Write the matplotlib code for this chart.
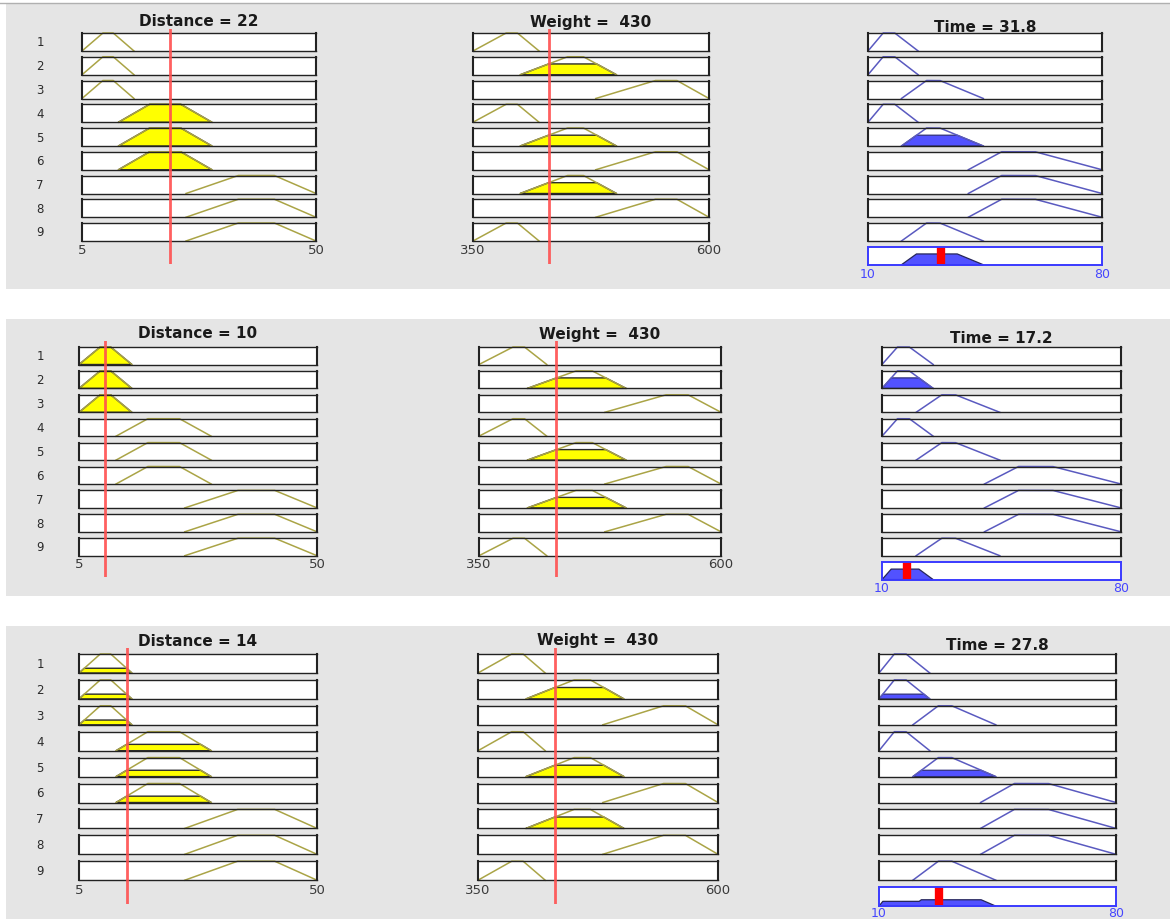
import numpy as np
import matplotlib
matplotlib.use("Agg")
import matplotlib.pyplot as plt
from matplotlib.patches import Rectangle
from matplotlib.lines import Line2D

W, H = 1170, 920

# Trapezoidal membership functions [a, b, c, d]
distance_range = [5, 50]
distance_small = [5, 9, 11, 15]
distance_medium = [12, 18, 24, 30]
distance_large = [25, 35, 42, 50]

weight_range = [350, 600]
weight_light = [350, 385, 397, 420]
weight_medium = [400, 450, 467, 502]
weight_heavy = [480, 543, 566, 600]

time_range = [10, 80]
time_short = [10, 14.5, 18, 25]
time_medium = [20, 27.5, 31.5, 44.5]
time_long = [40, 50, 60, 80]

# Rule base (one entry per rule row)
rule_distance = ["small", "small", "small", "medium", "medium", "medium", "large", "large", "large"]
rule_weight = ["light", "medium", "heavy", "light", "medium", "heavy", "medium", "heavy", "light"]
rule_time = ["short", "short", "medium", "short", "medium", "long", "long", "long", "medium"]

# Evaluated operating points
distance_inputs = [22, 10, 14]
weight_inputs = [430, 430, 430]
time_outputs = [31.8, 17.2, 27.8]

distance_mfs = {"small": distance_small, "medium": distance_medium, "large": distance_large}
weight_mfs = {"light": weight_light, "medium": weight_medium, "heavy": weight_heavy}
time_mfs = {"short": time_short, "medium": time_medium, "long": time_long}

# Screen geometry of the three rule-viewer panels (pixels)
layouts = [
    dict(bg=(4, 290), top=34, step=23.75, h=18,
         cols=[(82, 316), (473, 709), (868, 1102)],
         title_y=22, ttitle_y=27, tick_y=250, ttick_y=275, line=(30, 265)),
    dict(bg=(320, 597), top=348, step=23.9, h=17.5,
         cols=[(79, 317), (479, 721), (882, 1121)],
         title_y=334, ttitle_y=339, tick_y=565, ttick_y=589, line=(342, 578)),
    dict(bg=(627, 921), top=655, step=25.9, h=19,
         cols=[(79, 317), (478, 718), (879, 1116)],
         title_y=641, ttitle_y=646, tick_y=891, ttick_y=913.5, line=(649, 905)),
]

MF_IN = "#aaa446"
FILL_IN = "#ffff00"
MF_OUT = "#5a5ac0"
FILL_OUT = "#5252ff"
RED_IN = "#ff4f4f"
TEXT = "#2a2a2a"
TICK_OUT = "#4646ff"


def trap(x, p):
    a, b, c, d = p
    return np.interp(x, [a, b, c, d], [0, 1, 1, 0], left=0, right=0)


def add_box(fig, x0, x1, y0, y1, xr, edge="#222222", lw_side=1.5, lw_tb=1.0):
    ax = fig.add_axes([x0 / W, 1 - y1 / H, (x1 - x0) / W, (y1 - y0) / H])
    ax.set_xlim(xr)
    ax.set_ylim(0, 1)
    ax.set_xticks([])
    ax.set_yticks([])
    ax.set_facecolor("white")
    for side, sp in ax.spines.items():
        sp.set_color(edge)
        sp.set_linewidth(lw_side if side in ("left", "right") else lw_tb)
    return ax


def add_overlay(fig, x0, x1, y0, y1, xr):
    ax = fig.add_axes([x0 / W, 1 - y1 / H, (x1 - x0) / W, (y1 - y0) / H])
    ax.set_xlim(xr)
    ax.set_ylim(0, 1)
    ax.axis("off")
    ax.patch.set_alpha(0)
    return ax


fig = plt.figure(figsize=(W / 100, H / 100), dpi=100)
fig.patch.set_facecolor("white")
fig.add_artist(Line2D([0, 1], [1 - 4 / H] * 2, transform=fig.transFigure,
                      color="#b0b0b0", lw=1.0, zorder=-5))

for k, L in enumerate(layouts):
    d_in, w_in, t_out = distance_inputs[k], weight_inputs[k], time_outputs[k]
    b0, b1 = L["bg"]
    fig.add_artist(Rectangle((6 / W, 1 - b1 / H), (W - 6) / W, (b1 - b0) / H,
                             transform=fig.transFigure, facecolor="#e5e5e5",
                             edgecolor="none", zorder=-10))

    (dx0, dx1), (wx0, wx1), (tx0, tx1) = L["cols"]
    aggregate_x = np.linspace(time_range[0], time_range[1], 1401)
    aggregate = np.zeros_like(aggregate_x)

    for r in range(9):
        y0 = L["top"] + r * L["step"]
        y1 = y0 + L["h"]
        fig.text(40 / W, 1 - (y0 + y1) / 2 / H, str(r + 1), ha="center", va="center",
                 fontsize=8.5, color=TEXT)

        mu_d = trap(np.array([d_in]), distance_mfs[rule_distance[r]])[0]
        mu_w = trap(np.array([w_in]), weight_mfs[rule_weight[r]])[0]
        strength = min(mu_d, mu_w)

        for (cx0, cx1), xr, p, mu in (
            ((dx0, dx1), distance_range, distance_mfs[rule_distance[r]], mu_d),
            ((wx0, wx1), weight_range, weight_mfs[rule_weight[r]], mu_w),
        ):
            ax = add_box(fig, cx0, cx1, y0, y1, xr)
            xs = np.linspace(p[0], p[3], 401)
            ax.plot(xs, trap(xs, p), color=MF_IN, lw=1.1, clip_on=False)
            if mu > 0:
                ys = np.minimum(trap(xs, p), mu)
                ax.fill(xs, ys, facecolor=FILL_IN, edgecolor="#2b2b2b", lw=1.0,
                        clip_on=False)

        p = time_mfs[rule_time[r]]
        ax = add_box(fig, tx0, tx1, y0, y1, time_range)
        xs = np.linspace(p[0], p[3], 401)
        ax.plot(xs, trap(xs, p), color=MF_OUT, lw=1.1, clip_on=False)
        if strength > 0:
            ys = np.minimum(trap(xs, p), strength)
            ax.fill(xs, ys, facecolor=FILL_OUT, edgecolor="#30307a", lw=0.9,
                    clip_on=False)
            aggregate = np.maximum(aggregate, np.minimum(trap(aggregate_x, p), strength))

    # Aggregated output row
    y0 = L["top"] + 9 * L["step"]
    y1 = y0 + L["h"]
    ax = add_box(fig, tx0, tx1, y0, y1, time_range, edge="#3a3aff", lw_side=1.4, lw_tb=1.4)
    on = aggregate > 0
    xs = aggregate_x[on]
    ax.fill(np.r_[xs[0], xs, xs[-1]], np.r_[0, aggregate[on], 0],
            facecolor=FILL_OUT, edgecolor="#26265a", lw=0.9, clip_on=False)
    ax.axvline(t_out, color="#ff0000", lw=6, solid_capstyle="butt")

    # Titles and range labels
    fig.text((dx0 + dx1) / 2 / W, 1 - L["title_y"] / H, f"Distance = {d_in:g}",
             ha="center", va="center", fontsize=11, fontweight="bold", color="#1a1a1a")
    fig.text((wx0 + wx1) / 2 / W, 1 - L["title_y"] / H, f"Weight =  {w_in:g}",
             ha="center", va="center", fontsize=11, fontweight="bold", color="#1a1a1a")
    fig.text((tx0 + tx1) / 2 / W, 1 - L["ttitle_y"] / H, f"Time = {t_out:g}",
             ha="center", va="center", fontsize=11, fontweight="bold", color="#1a1a1a")

    for cx, xr in (((dx0, dx1), distance_range), ((wx0, wx1), weight_range)):
        for px, v in zip(cx, xr):
            fig.text(px / W, 1 - L["tick_y"] / H, f"{v:g}", ha="center", va="center",
                     fontsize=9.5, color="#3a3a3a")
    for px, v in zip((tx0, tx1), time_range):
        fig.text(px / W, 1 - L["ttick_y"] / H, f"{v:g}", ha="center", va="center",
                 fontsize=9, color=TICK_OUT)

    # Input value markers crossing the rule rows
    ly0, ly1 = L["line"]
    for (cx0, cx1), xr, v in (((dx0, dx1), distance_range, d_in),
                              ((wx0, wx1), weight_range, w_in)):
        ov = add_overlay(fig, cx0, cx1, ly0, ly1, xr)
        ov.axvline(v, color=RED_IN, lw=2.0, alpha=0.9)

fig.savefig("out.png", dpi=100)
